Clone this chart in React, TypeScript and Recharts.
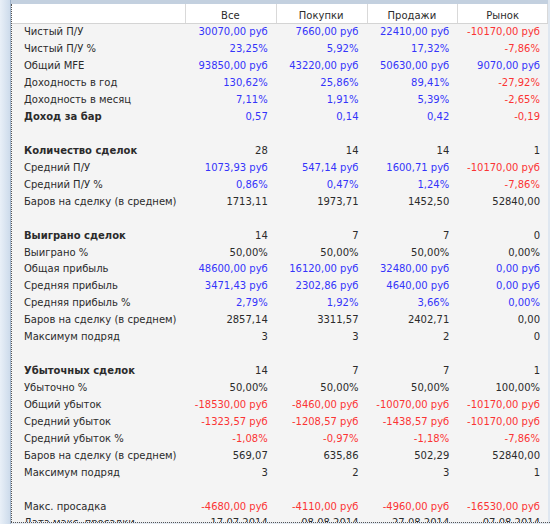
import { ScatterChart, Scatter, XAxis, YAxis } from "recharts";

const columns = ["Все", "Покупки", "Продажи", "Рынок"];

const rowLabels = [
  "Чистый П/У",
  "Чистый П/У %",
  "Общий MFE",
  "Доходность в год",
  "Доходность в месяц",
  "Доход за бар",
  "",
  "Количество сделок",
  "Средний П/У",
  "Средний П/У %",
  "Баров на сделку (в среднем)",
  "",
  "Выиграно сделок",
  "Выиграно %",
  "Общая прибыль",
  "Средняя прибыль",
  "Средняя прибыль %",
  "Баров на сделку (в среднем)",
  "Максимум подряд",
  "",
  "Убыточных сделок",
  "Убыточно %",
  "Общий убыток",
  "Средний убыток",
  "Средний убыток %",
  "Баров на сделку (в среднем)",
  "Максимум подряд",
  "",
  "Макс. просадка",
  "Дата макс. просадки",
];

// section headers are bold, money/percent rows are coloured by sign
const boldRows = [5, 7, 12, 20];
const signedRows = [0, 1, 2, 3, 4, 5, 8, 9, 14, 15, 16, 22, 23, 24, 28];

const allTrades = [
  "30070,00 руб", "23,25%", "93850,00 руб", "130,62%", "7,11%", "0,57", "",
  "28", "1073,93 руб", "0,86%", "1713,11", "",
  "14", "50,00%", "48600,00 руб", "3471,43 руб", "2,79%", "2857,14", "3", "",
  "14", "50,00%", "-18530,00 руб", "-1323,57 руб", "-1,08%", "569,07", "3", "",
  "-4680,00 руб", "17.07.2014",
];
const buyTrades = [
  "7660,00 руб", "5,92%", "43220,00 руб", "25,86%", "1,91%", "0,14", "",
  "14", "547,14 руб", "0,47%", "1973,71", "",
  "7", "50,00%", "16120,00 руб", "2302,86 руб", "1,92%", "3311,57", "3", "",
  "7", "50,00%", "-8460,00 руб", "-1208,57 руб", "-0,97%", "635,86", "2", "",
  "-4110,00 руб", "08.08.2014",
];
const sellTrades = [
  "22410,00 руб", "17,32%", "50630,00 руб", "89,41%", "5,39%", "0,42", "",
  "14", "1600,71 руб", "1,24%", "1452,50", "",
  "7", "50,00%", "32480,00 руб", "4640,00 руб", "3,66%", "2402,71", "2", "",
  "7", "50,00%", "-10070,00 руб", "-1438,57 руб", "-1,18%", "502,29", "3", "",
  "-4960,00 руб", "27.08.2014",
];
const marketTrades = [
  "-10170,00 руб", "-7,86%", "9070,00 руб", "-27,92%", "-2,65%", "-0,19", "",
  "1", "-10170,00 руб", "-7,86%", "52840,00", "",
  "0", "0,00%", "0,00 руб", "0,00 руб", "0,00%", "0,00", "0", "",
  "1", "100,00%", "-10170,00 руб", "-10170,00 руб", "-7,86%", "52840,00", "1", "",
  "-16530,00 руб", "07.08.2014",
];

const FONT = "DejaVu Sans";
const BLUE = "#3434fa";
const RED = "#fb3434";
const INK = "#2b2b2b";

const series = [allTrades, buyTrades, sellTrades, marketTrades];
const cells = series.flatMap((vals, ci) =>
  vals
    .map((text, row) => ({ col: ci + 1, row, text }))
    .filter((c) => c.text !== "")
);

const cellColor = (row: number, text: string) => {
  if (!signedRows.includes(row)) return INK;
  return text.startsWith("-") ? RED : BLUE;
};

const CellText = (props: any) => {
  const { cx, cy, payload } = props;
  return (
    <text
      x={cx - 8}
      y={cy}
      dy="0.35em"
      textAnchor="end"
      fontFamily={FONT}
      fontSize={10}
      fill={cellColor(payload.row, payload.text)}
    >
      {payload.text}
    </text>
  );
};

const RowTick = (props: any) => {
  const { y, payload } = props;
  const row = payload.value as number;
  return (
    <text
      x={24}
      y={y}
      dy="0.35em"
      textAnchor="start"
      fontFamily={FONT}
      fontSize={10}
      fontWeight={boldRows.includes(row) ? "bold" : "normal"}
      fill={INK}
    >
      {rowLabels[row]}
    </text>
  );
};

const HeadTick = (props: any) => {
  const { x, payload } = props;
  return (
    <text
      x={x}
      y={15}
      dy="0.35em"
      textAnchor="middle"
      fontFamily={FONT}
      fontSize={10}
      fill={INK}
    >
      {columns[Math.floor(payload.value)]}
    </text>
  );
};

const sep = (left: number) => (
  <div
    key={left}
    style={{ position: "absolute", left, top: 4, width: 1, height: 19, background: "#d9d9d9" }}
  />
);

export default function App() {
  return (
    <div
      style={{
        position: "absolute",
        left: 0,
        top: 0,
        width: 550,
        height: 524,
        overflow: "hidden",
        background: "#f4f4f4",
      }}
    >
      {/* window frame and header band */}
      <div style={{ position: "absolute", left: 0, top: 0, width: 550, height: 4, background: "#c3d0df" }} />
      <div
        style={{
          position: "absolute",
          left: 0,
          top: 0,
          width: 10,
          height: 524,
          background: "linear-gradient(to right, #e9f0f8, #cddbeb)",
          borderRight: "1px solid #9fb3ca",
        }}
      />
      <div style={{ position: "absolute", left: 12, top: 4, width: 536, height: 19, background: "#ffffff" }} />
      <div style={{ position: "absolute", left: 12, top: 23, width: 536, height: 1, background: "#d4d4d4" }} />
      {[185, 276, 367, 457, 547].map(sep)}
      <div style={{ position: "absolute", left: 548, top: 0, width: 2, height: 524, background: "#dfe7f0" }} />

      <div style={{ position: "absolute", left: 0, top: 0 }}>
        <ScatterChart
          width={550}
          height={540}
          margin={{ top: 4, right: 2, bottom: 8.6, left: 12 }}
        >
          <XAxis
            type="number"
            dataKey="col"
            orientation="top"
            domain={[0, 4]}
            ticks={[0.5, 1.5, 2.5, 3.5]}
            height={19.5}
            axisLine={false}
            tickLine={false}
            tick={<HeadTick />}
          />
          <YAxis
            type="number"
            dataKey="row"
            reversed
            domain={[-0.5, rowLabels.length - 0.5]}
            ticks={rowLabels.map((_, i) => i)}
            interval={0}
            width={173}
            axisLine={false}
            tickLine={false}
            tick={<RowTick />}
          />
          <Scatter data={cells} shape={<CellText />} isAnimationActive={false} />
        </ScatterChart>
      </div>

      {/* dotted content border drawn over the table */}
      <div
        style={{
          position: "absolute",
          left: 11,
          top: 4,
          width: 0,
          height: 518,
          borderLeft: "1px dotted #555",
        }}
      />
      <div
        style={{
          position: "absolute",
          left: 11,
          top: 522,
          width: 539,
          height: 2,
          borderTop: "1px dotted #555",
          background: "#e4eaf2",
        }}
      />
    </div>
  );
}
